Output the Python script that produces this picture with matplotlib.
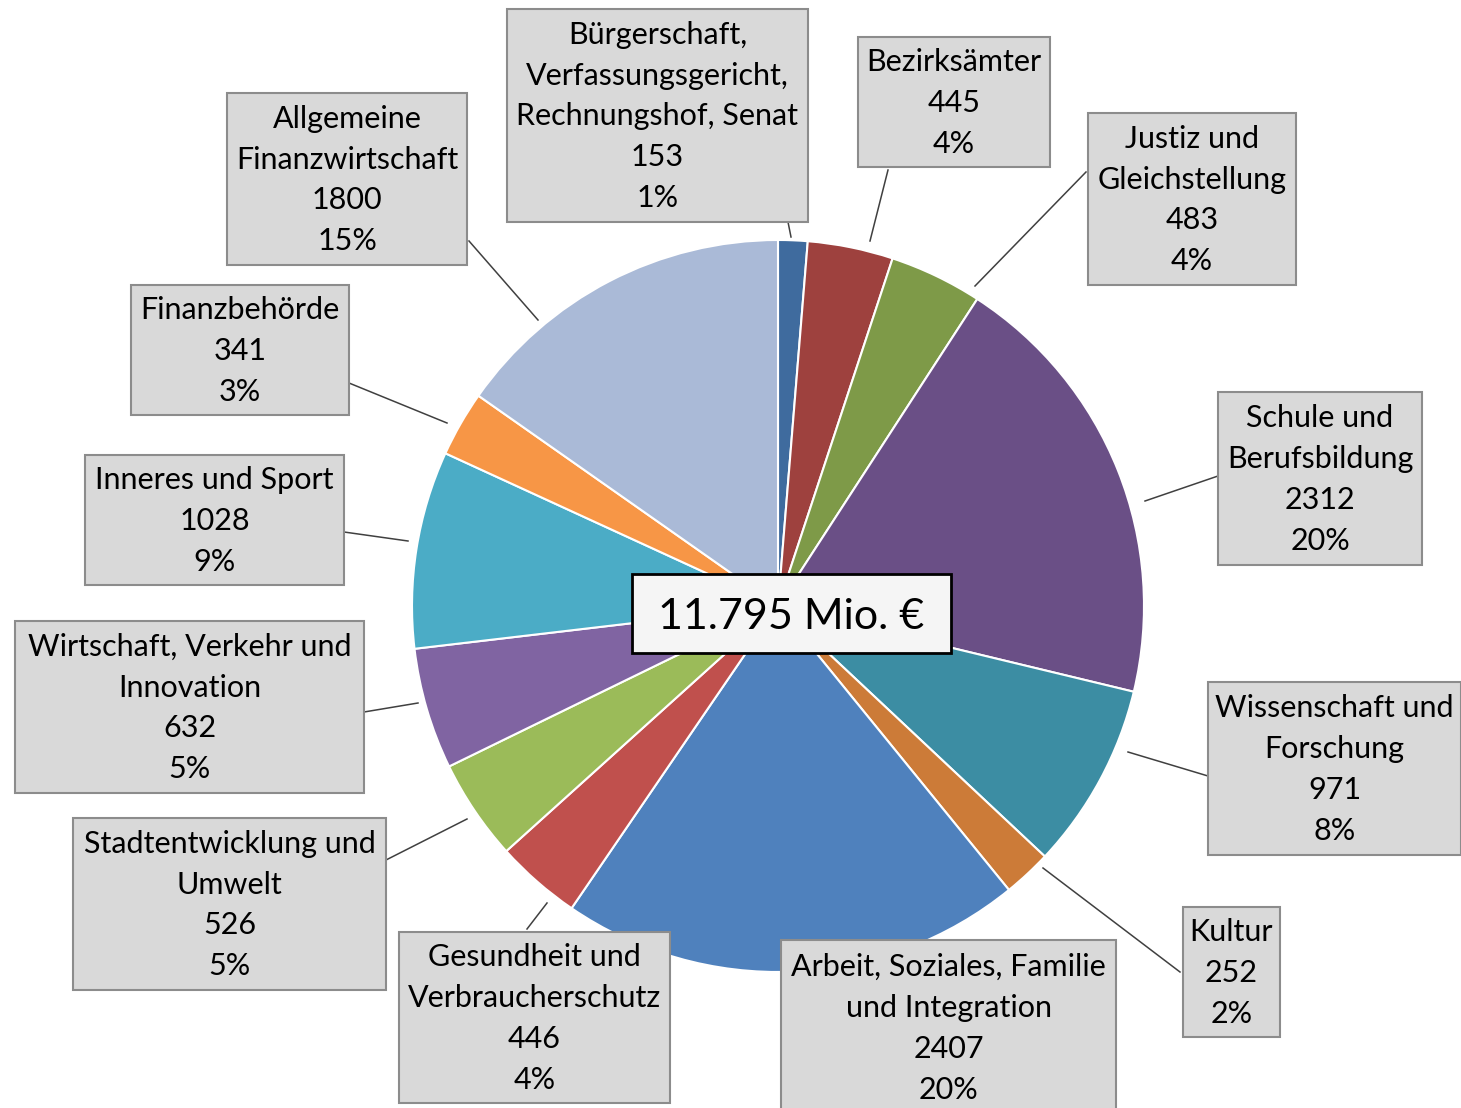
import matplotlib.pyplot as plt
from matplotlib.patches import Rectangle

W, H = 1461, 1108

# Haushalt nach Einzelplänen (Mio. €), im Uhrzeigersinn ab 12 Uhr
names = [
    "Bürgerschaft,\nVerfassungsgericht,\nRechnungshof, Senat",
    "Bezirksämter",
    "Justiz und\nGleichstellung",
    "Schule und\nBerufsbildung",
    "Wissenschaft und\nForschung",
    "Kultur",
    "Arbeit, Soziales, Familie\nund Integration",
    "Gesundheit und\nVerbraucherschutz",
    "Stadtentwicklung und\nUmwelt",
    "Wirtschaft, Verkehr und\nInnovation",
    "Inneres und Sport",
    "Finanzbehörde",
    "Allgemeine\nFinanzwirtschaft",
]
values = [153, 445, 483, 2312, 971, 252, 2407, 446, 526, 632, 1028, 341, 1800]
percents = ["1%", "4%", "4%", "20%", "8%", "2%", "20%", "4%", "5%", "5%", "9%", "3%", "15%"]
total_label = "11.795 Mio. €"

colors = ["#3F6B9E", "#9E413E", "#7E9A48", "#6A4F86", "#3C8DA3", "#CC7B38", "#4F81BD",
          "#C0504D", "#9BBB59", "#8064A2", "#4BACC6", "#F79646", "#AABAD7"]

# Layout in Pixel (x0, y0, x1, y1) der Beschriftungsboxen
boxes = [
    (507, 9, 808, 222),
    (858, 37, 1050, 167),
    (1088, 113, 1296, 285),
    (1218, 392, 1422, 565),
    (1208, 682, 1461, 855),
    (1183, 907, 1280, 1037),
    (781, 940, 1116, 1115),
    (399, 932, 670, 1103),
    (73, 818, 386, 990),
    (15, 621, 364, 793),
    (85, 455, 344, 585),
    (131, 285, 349, 415),
    (227, 93, 467, 265),
]
# Führungslinien (Box-Seite -> Kreisrand), Pixel
leaders = [
    ((788, 222), (791, 237)),
    ((888, 170), (870, 241)),
    ((1086, 172), (975, 286)),
    ((1218, 476), (1145, 501)),
    ((1208, 776), (1128, 752)),
    ((1180, 972), (1043, 868)),
    None,
    ((527, 929), (547, 903)),
    ((386, 860), (467, 819)),
    ((364, 712), (418, 703)),
    ((344, 532), (408, 541)),
    ((349, 383), (447, 423)),
    ((469, 241), (538, 320)),
]

plt.rcParams['font.family'] = ['Lato', 'DejaVu Sans']

fig = plt.figure(figsize=(W / 100, H / 100), dpi=100)
ax = fig.add_axes([0, 0, 1, 1])

cx, cy, r = 778, 606, 366
ax.pie(values, colors=colors, startangle=90, counterclock=False,
       center=(cx, H - cy), radius=r,
       wedgeprops=dict(edgecolor="white", linewidth=1.5))

for ld in leaders:
    if ld is None:
        continue
    (x0, y0), (x1, y1) = ld
    ax.plot([x0, x1], [H - y0, H - y1], color="#404040", lw=1.1, zorder=3)

for name, val, pct, (x0, y0, x1, y1) in zip(names, values, percents, boxes):
    ax.add_patch(Rectangle((x0, H - y1), x1 - x0, y1 - y0, facecolor="#D9D9D9",
                           edgecolor="#8C8C8C", lw=1.5, zorder=4))
    ax.text((x0 + x1) / 2, H - (y0 + y1) / 2 - 1, f"{name}\n{val}\n{pct}",
            ha="center", va="center", multialignment="center",
            fontsize=22, linespacing=1.56, color="black", zorder=5)

# Summe in der Mitte
ax.add_patch(Rectangle((632, H - 653), 951 - 632, 653 - 574, facecolor="#F5F5F5",
                       edgecolor="black", lw=2, zorder=6))
ax.text((632 + 951) / 2, H - 617, total_label, ha="center", va="center",
        fontsize=31, color="black", zorder=7)

ax.set_xlim(0, W)
ax.set_ylim(0, H)
ax.set_aspect("equal")
ax.axis("off")

fig.savefig("out.png", dpi=100)
